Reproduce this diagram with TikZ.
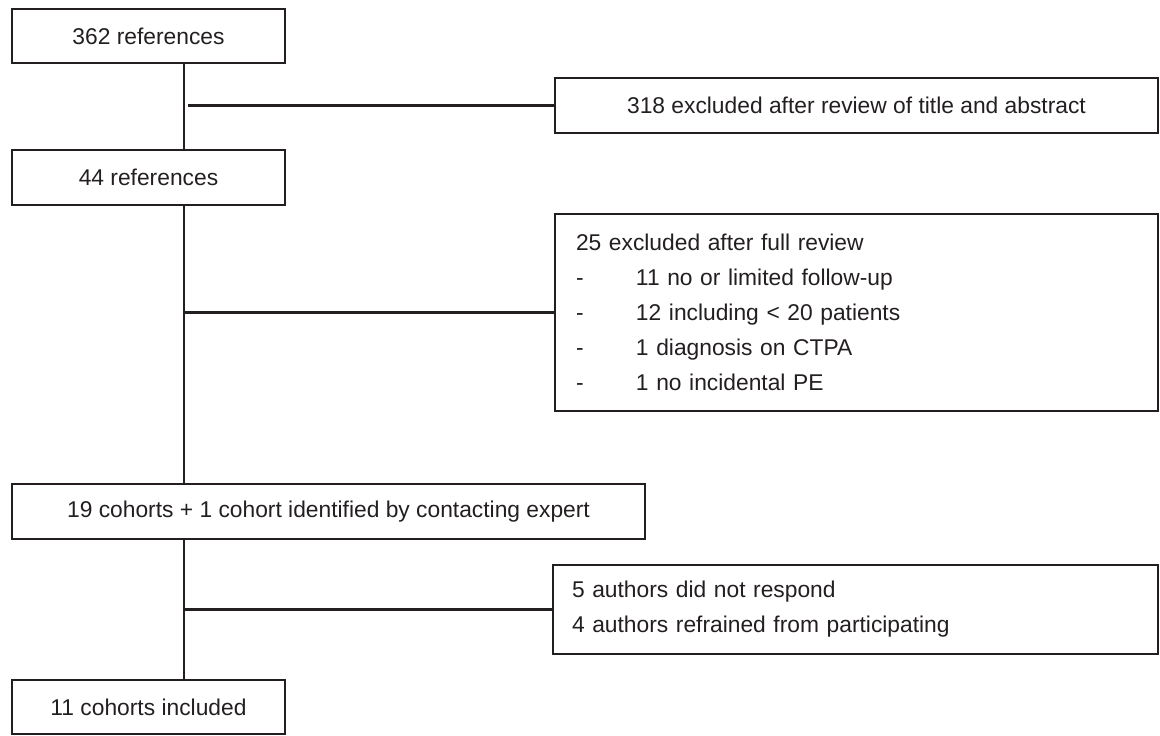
\documentclass[tikz,border=0pt]{standalone}
\usepackage{fontspec}
\setmainfont{Liberation Sans}
\definecolor{ink}{HTML}{231F20}
\tikzset{
  box/.style={draw=ink, line width=1.4pt, inner sep=0pt, minimum height=27.5pt,
    text=ink, font=\fontsize{11.4}{17.5}\selectfont},
  link/.style={draw=ink, line width=1.2pt},
}

\begin{document}
\begin{tikzpicture}[x=0.5pt,y=-0.5pt]
  % Canvas in pixels of the figure
  \useasboundingbox (0,0) rectangle (1160,735);
  \coordinate (spine) at (184,0); % Main vertical line

  % Left column
  \node[box, minimum width=136.5pt, minimum height=27pt] (ref362) at (148.5,36) {362 references};
  \node[box, minimum width=136.5pt] (ref44) at (148.5,177.5) {44 references};
  \node[box, minimum width=316.5pt] (coh19) at (328.5,511.5) {19 cohorts + 1 cohort identified by contacting expert};
  \node[box, minimum width=136.5pt, minimum height=27pt] (coh11) at (148.5,707) {11 cohorts included};

  % Exclusions on the right
  \node[box, minimum width=301.5pt] (excl318) at (856.5,105.5) {318 excluded after review of title and abstract};
  \node[box, minimum width=301.5pt, minimum height=98.5pt, text width=280.5pt, align=left] (excl25) at (856.5,312.5)
    {25 excluded after full review\\
     \makebox[30pt][l]{-}11 no or limited follow-up\\
     \makebox[30pt][l]{-}12 including < 20 patients\\
     \makebox[30pt][l]{-}1 diagnosis on CTPA\\
     \makebox[30pt][l]{-}1 no incidental PE};
  \node[box, minimum width=302.5pt, minimum height=44.5pt, text width=283.5pt, align=left] (auth5) at (855.5,609.5)
    {5 authors did not respond\\
     4 authors refrained from participating};

  % Connectors
  \draw[link] (ref362.south -| spine) -- (ref44.north -| spine);
  \draw[link] (ref44.south -| spine) -- (coh19.north -| spine);
  \draw[link] (coh19.south -| spine) -- (coh11.north -| spine);
  \draw[link] ([xshift=2pt]spine |- excl318.west) -- (excl318.west);
  \draw[link] (spine |- excl25.west) -- (excl25.west);
  \draw[link] (spine |- auth5.west) -- (auth5.west);
\end{tikzpicture}
\end{document}
